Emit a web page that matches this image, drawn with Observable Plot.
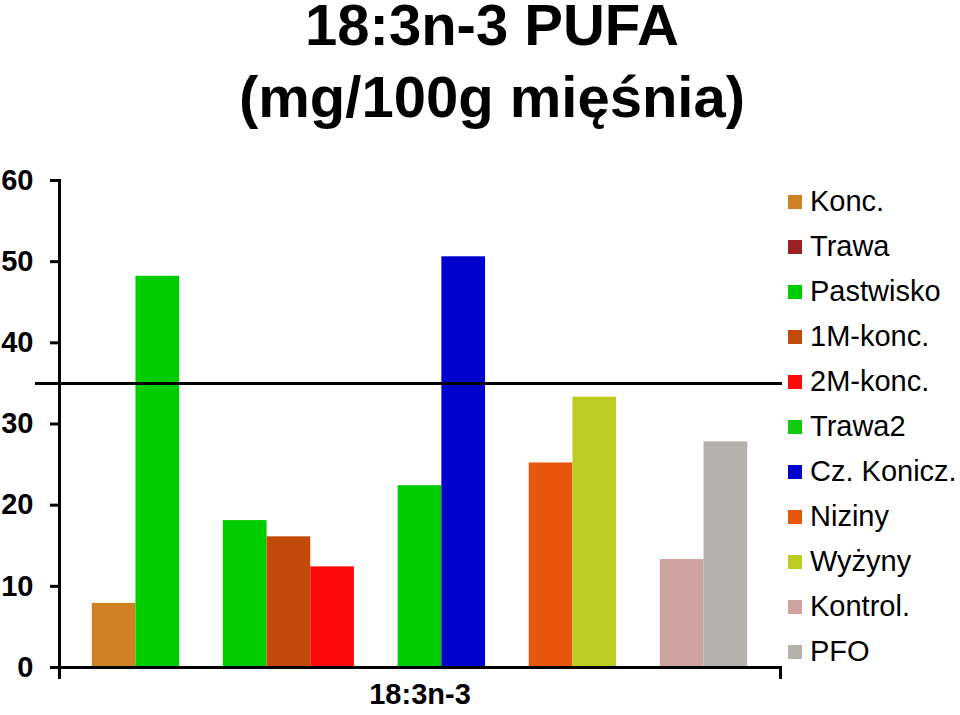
<!DOCTYPE html>
<html>
<head>
<meta charset="utf-8">
<script src="https://cdn.jsdelivr.net/npm/d3@7"></script>
<script src="https://cdn.jsdelivr.net/npm/@observablehq/plot@0.6"></script>
<style>
  html, body { margin: 0; padding: 0; background: #fff; }
  #wrap { position: relative; width: 960px; height: 715px; overflow: hidden; font-family: "Liberation Sans", Arial, sans-serif; }
  #title { position: absolute; left: 0; top: -11px; width: 984px; text-align: center; font: bold 58px/72px "Liberation Sans", Arial, sans-serif; color: #000; }
  #chart { position: absolute; left: 0; top: 140px; }
  #legend { position: absolute; left: 788px; top: 179px; }
  .lg-swatches { margin: 0 !important; font-family: "Liberation Sans", Arial, sans-serif !important; font-size: 29px !important; color: #000; }
  .lg-swatch { height: 45px !important; padding: 0 !important; display: flex !important; align-items: center !important; }
  .lg-swatch svg { margin-right: 8px !important; }
</style>
</head>
<body>
<div id="wrap">
  <div id="title">18:3n-3 PUFA<br>(mg/100g mięśnia)</div>
  <div id="chart"></div>
  <div id="legend"></div>
</div>
<script>
const categories = ["18:3n-3"];
const legendNames = ["Konc.", "Trawa", "Pastwisko", "1M-konc.", "2M-konc.", "Trawa2", "Cz. Konicz.", "Niziny", "Wyżyny", "Kontrol.", "PFO"];
const legendColors = ["#CF8224", "#9A2222", "#00CC00", "#C24A0A", "#FF0A0A", "#11CC11", "#0000CC", "#E8560C", "#BDCC22", "#D0A3A3", "#B5B1AD"];
const slots = ["Konc.", "Pastwisko", "gap1", "Trawa", "1M-konc.", "2M-konc.", "gap2", "Trawa2", "Cz. Konicz.", "gap3", "Niziny", "Wyżyny", "gap4", "Kontrol.", "PFO"];
const barSeries = ["Konc.", "Pastwisko", "Trawa", "1M-konc.", "2M-konc.", "Trawa2", "Cz. Konicz.", "Niziny", "Wyżyny", "Kontrol.", "PFO"];
const barValues = [7.9, 48.2, 18.1, 16.1, 12.4, 22.4, 50.6, 25.2, 33.3, 13.3, 27.8];
const barColors = ["#CF8224", "#00CC00", "#00CC00", "#C24A0A", "#FF0A0A", "#00CC00", "#0000CC", "#E8560C", "#BDCC22", "#D0A3A3", "#B5B1AD"];
const yTicks = [0, 10, 20, 30, 40, 50, 60];
const refLine = [35];

const bars = barSeries.map((s, i) => ({slot: s, value: barValues[i], color: barColors[i]}));

const plot = Plot.plot({
  width: 960,
  height: 575,
  marginTop: 40,
  marginBottom: 48,
  marginLeft: 59,
  marginRight: 180,
  style: {fontFamily: "'Liberation Sans', Arial, sans-serif", background: "transparent", color: "#000"},
  x: {type: "band", domain: slots, paddingInner: 0, paddingOuter: 0.75, round: false, axis: null},
  y: {domain: [0, 60], label: null},
  color: {type: "identity"},
  marks: [
    Plot.barY(bars, {x: "slot", y: "value", fill: "color"}),
    Plot.ruleY(refLine, {stroke: "#000", strokeWidth: 3, insetLeft: -24, insetRight: -2}),
    Plot.ruleY([0], {stroke: "#000", strokeWidth: 3}),
    Plot.frame({anchor: "left", stroke: "#000", strokeWidth: 3, insetBottom: -10}),
    Plot.frame({anchor: "right", stroke: "#000", strokeWidth: 3, insetTop: 487, insetBottom: -10}),
    Plot.axisY({ticks: yTicks, tickSize: 9, tickPadding: 17, strokeWidth: 3, fontSize: 29, fontWeight: "bold", label: null, stroke: "#000", fill: "#000"}),
    Plot.text(categories, {text: d => d, frameAnchor: "bottom", dy: 36, fontSize: 29, fontWeight: "bold", fill: "#000"})
  ]
});
document.getElementById("chart").appendChild(plot);

const legend = Plot.legend({
  color: {type: "ordinal", domain: legendNames, range: legendColors},
  legend: "swatches",
  columns: 1,
  swatchSize: 14,
  className: "lg"
});
document.getElementById("legend").appendChild(legend);
</script>
</body>
</html>
